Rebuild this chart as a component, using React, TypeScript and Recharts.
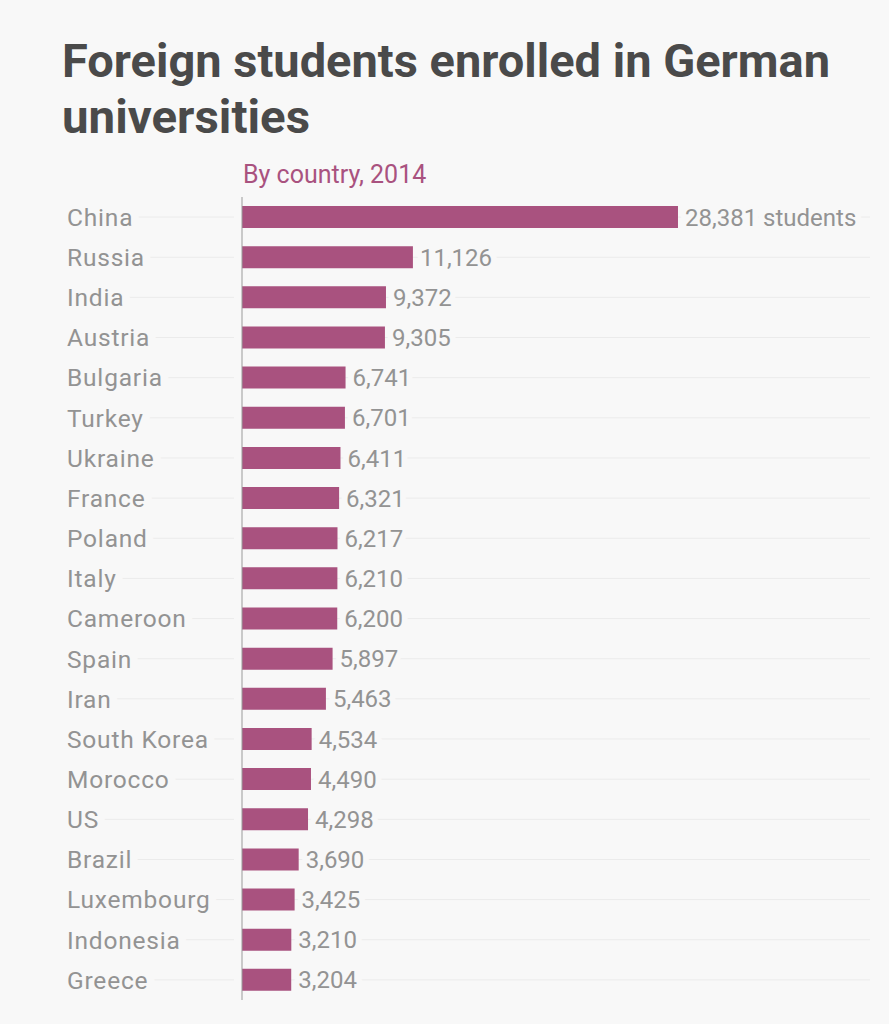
import React from 'react';
import { BarChart, Bar, XAxis, YAxis, CartesianGrid, LabelList } from 'recharts';

const countries = [
  'China', 'Russia', 'India', 'Austria', 'Bulgaria', 'Turkey', 'Ukraine', 'France', 'Poland', 'Italy',
  'Cameroon', 'Spain', 'Iran', 'South Korea', 'Morocco', 'US', 'Brazil', 'Luxembourg', 'Indonesia', 'Greece',
];
const students = [
  28381, 11126, 9372, 9305, 6741, 6701, 6411, 6321, 6217, 6210,
  6200, 5897, 5463, 4534, 4490, 4298, 3690, 3425, 3210, 3204,
];

const BG = '#f8f8f8';
const BAR = '#a9527f';
const TEXT = '#939393';
const GRID = '#ebebeb';
const FONT = 'Roboto, "Noto Sans", sans-serif';

const data = countries.map((country, i) => ({ country, value: students[i] }));

// country label with a gridline running behind it (masked by a background stroke)
const CountryTick = (props: any) => {
  const { x, y, payload } = props;
  return (
    <g>
      <line x1={67} x2={x} y1={y} y2={y} stroke={GRID} strokeWidth={1} />
      <text
        x={67}
        y={y}
        dy="0.36em"
        fontSize={24.5}
        letterSpacing={0.8}
        fontFamily={FONT}
        fill={TEXT}
        stroke={BG}
        strokeWidth={16}
        paintOrder="stroke"
        strokeLinejoin="round"
      >
        {payload.value}
      </text>
    </g>
  );
};

const ValueLabel = (props: any) => {
  const { x, y, width, height, value, index } = props;
  const txt = Number(value).toLocaleString('en-US') + (index === 0 ? ' students' : '');
  return (
    <text
      x={Number(x) + Number(width) + 7}
      y={Number(y) + Number(height) / 2}
      dy="0.36em"
      fontSize={24}
      letterSpacing={0}
      fontFamily={FONT}
      fill={TEXT}
      stroke={BG}
      strokeWidth={12}
      paintOrder="stroke"
      strokeLinejoin="round"
    >
      {txt}
    </text>
  );
};

// gridlines only at the band centres (no lines on the plot's top and bottom edges)
const gridRows = (args: any) => {
  const off = args?.offset;
  if (!off) return [];
  const band = off.height / countries.length;
  return countries.map((_, i) => off.top + band * (i + 0.5));
};

export default function App() {
  return (
    <div style={{ position: 'fixed', left: 0, top: 0, width: 889, height: 1024, background: BG, overflow: 'hidden' }}>
      <svg width={889} height={150} style={{ position: 'absolute', left: 0, top: 0 }}>
        <text x={62} y={77} fontSize={46} fontWeight={700} fontFamily={FONT} fill="#4a4a4a" textLength={768} lengthAdjust="spacingAndGlyphs">
          Foreign students enrolled in German
        </text>
        <text x={62} y={133} fontSize={46} fontWeight={700} fontFamily={FONT} fill="#4a4a4a" textLength={248} lengthAdjust="spacingAndGlyphs">
          universities
        </text>
      </svg>
      <div style={{ position: 'absolute', left: 243, top: 160, fontFamily: FONT, fontSize: 25, color: BAR, whiteSpace: 'nowrap' }}>
        By country, 2014
      </div>
      <div style={{ position: 'absolute', left: 0, top: 0 }}>
        <BarChart
          width={889}
          height={1024}
          data={data}
          layout="vertical"
          margin={{ top: 197, right: 19, bottom: 24, left: 0 }}
        >
          <CartesianGrid horizontal vertical={false} stroke={GRID} horizontalCoordinatesGenerator={gridRows} />
          <XAxis type="number" domain={[0, 40880]} hide />
          <YAxis
            type="category"
            dataKey="country"
            width={242}
            interval={0}
            tickLine={false}
            axisLine={{ stroke: '#9a9a9a' }}
            tick={<CountryTick />}
          />
          <Bar dataKey="value" fill={BAR} barSize={22} isAnimationActive={false}>
            <LabelList dataKey="value" content={<ValueLabel />} />
          </Bar>
        </BarChart>
      </div>
    </div>
  );
}
